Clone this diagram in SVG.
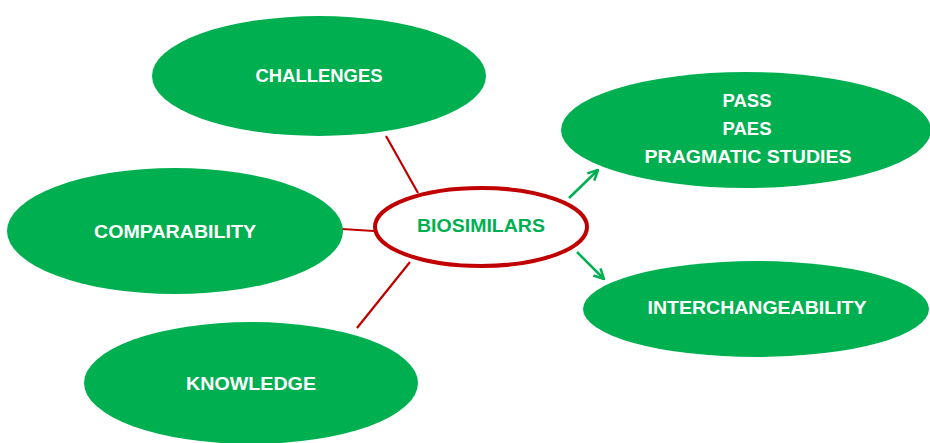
<svg xmlns="http://www.w3.org/2000/svg" width="930" height="443" viewBox="0 0 930 443">
<defs>
<style>
.node{fill:#00B050;}
.lbl{font-family:"Liberation Sans","Open Sans",sans-serif;font-weight:bold;font-size:18px;fill:#FFFFFF;text-anchor:middle;}
.red{stroke:#C00000;stroke-width:2.2;fill:none;}
.grn{stroke:#00B050;stroke-width:2.5;fill:none;marker-end:url(#ah);}
</style>
<marker id="ah" viewBox="0 0 10 10" refX="9" refY="5" markerWidth="5" markerHeight="5" orient="auto" markerUnits="strokeWidth">
<path d="M1,1 L9,5 L1,9" fill="none" stroke="#00B050" stroke-width="2"/>
</marker>
</defs>
<rect width="930" height="443" fill="#FFFFFF"/>
<g id="connectors">
<line class="red" x1="386" y1="136" x2="418" y2="193"/>
<line class="red" x1="342" y1="229" x2="374" y2="231"/>
<line class="red" x1="410" y1="262" x2="357" y2="328"/>
<line class="grn" x1="569" y1="198" x2="598" y2="170"/>
<line class="grn" x1="577" y1="252" x2="604" y2="279"/>
</g>
<g id="challenges">
<ellipse class="node" cx="319" cy="76" rx="167" ry="60"/>
<text class="lbl" x="319" y="82" textLength="127" lengthAdjust="spacingAndGlyphs">CHALLENGES</text>
</g>
<g id="comparability">
<ellipse class="node" cx="175" cy="231" rx="168" ry="63"/>
<text class="lbl" x="175" y="238" textLength="162" lengthAdjust="spacingAndGlyphs">COMPARABILITY</text>
</g>
<g id="knowledge">
<ellipse class="node" cx="251" cy="383" rx="167" ry="61"/>
<text class="lbl" x="251" y="390" textLength="130" lengthAdjust="spacingAndGlyphs">KNOWLEDGE</text>
</g>
<g id="biosimilars">
<ellipse cx="481" cy="227" rx="106" ry="39" fill="#FFFFFF" stroke="#C00000" stroke-width="4"/>
<text class="lbl" x="481" y="232" style="fill:#00B050" textLength="128" lengthAdjust="spacingAndGlyphs">BIOSIMILARS</text>
</g>
<g id="pass">
<ellipse class="node" cx="746" cy="130" rx="185" ry="58"/>
<text class="lbl" x="747" y="107" textLength="49" lengthAdjust="spacingAndGlyphs">PASS</text>
<text class="lbl" x="747" y="135" textLength="49" lengthAdjust="spacingAndGlyphs">PAES</text>
<text class="lbl" x="748" y="163" textLength="207" lengthAdjust="spacingAndGlyphs">PRAGMATIC STUDIES</text>
</g>
<g id="interchangeability">
<ellipse class="node" cx="756" cy="309" rx="173" ry="48"/>
<text class="lbl" x="757" y="314" textLength="219" lengthAdjust="spacingAndGlyphs">INTERCHANGEABILITY</text>
</g>
</svg>
